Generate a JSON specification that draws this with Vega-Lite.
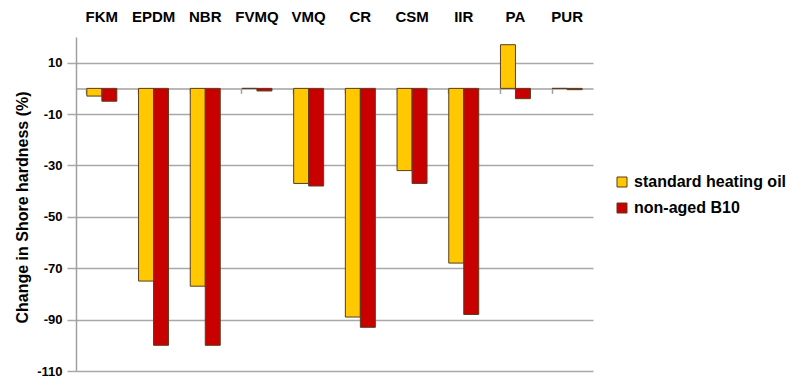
{
  "$schema": "https://vega.github.io/schema/vega-lite/v6.json",
  "autosize": {"type": "none"},
  "padding": {"left": 76, "top": 37, "right": 196, "bottom": 12},
  "width": 517,
  "height": 334,
  "background": "white",
  "config": {
    "view": {"stroke": null},
    "font": "Liberation Sans"
  },
  "data": {
    "values": [
      {"material": "FKM", "series": "standard heating oil", "value": -3},
      {"material": "FKM", "series": "non-aged B10", "value": -5},
      {"material": "EPDM", "series": "standard heating oil", "value": -75},
      {"material": "EPDM", "series": "non-aged B10", "value": -100},
      {"material": "NBR", "series": "standard heating oil", "value": -77},
      {"material": "NBR", "series": "non-aged B10", "value": -100},
      {"material": "FVMQ", "series": "standard heating oil", "value": 0},
      {"material": "FVMQ", "series": "non-aged B10", "value": -1},
      {"material": "VMQ", "series": "standard heating oil", "value": -37},
      {"material": "VMQ", "series": "non-aged B10", "value": -38},
      {"material": "CR", "series": "standard heating oil", "value": -89},
      {"material": "CR", "series": "non-aged B10", "value": -93},
      {"material": "CSM", "series": "standard heating oil", "value": -32},
      {"material": "CSM", "series": "non-aged B10", "value": -37},
      {"material": "IIR", "series": "standard heating oil", "value": -68},
      {"material": "IIR", "series": "non-aged B10", "value": -88},
      {"material": "PA", "series": "standard heating oil", "value": 17},
      {"material": "PA", "series": "non-aged B10", "value": -4},
      {"material": "PUR", "series": "standard heating oil", "value": 0},
      {"material": "PUR", "series": "non-aged B10", "value": -0.5}
    ]
  },
  "layer": [
    {
      "mark": {"type": "bar", "opacity": 0},
      "encoding": {
        "x": {
          "field": "material", "type": "nominal", "sort": null,
          "scale": {"paddingInner": 0.42, "paddingOuter": 0.21},
          "axis": {
            "orient": "bottom", "offset": -282.6, "labels": false, "title": null,
            "domainColor": "#a0a0a0", "domainWidth": 1.5,
            "tickColor": "#a0a0a0", "tickWidth": 1.5, "tickSize": 5, "bandPosition": 0
          }
        },
        "y": {
          "field": "value", "type": "quantitative",
          "scale": {"domain": [-110, 20], "nice": false, "zero": false},
          "axis": {
            "values": [10, -10, -30, -50, -70, -90, -110],
            "labelExpr": "'' + datum.value",
            "title": "Change in Shore hardness (%)",
            "titleFontSize": 16, "titleFontWeight": "bold", "titleColor": "#000",
            "titlePadding": 6, "titleY": 170,
            "labelFontSize": 13, "labelFontWeight": "bold", "labelColor": "#000",
            "labelPadding": 5,
            "grid": true, "gridColor": "#a8a8a8", "gridWidth": 1.5,
            "domainColor": "#a0a0a0", "domainWidth": 1.5,
            "tickColor": "#a8a8a8", "tickWidth": 1.5, "tickSize": 9
          }
        }
      }
    },
    {
      "mark": {"type": "bar", "stroke": "#5a3d1e", "strokeWidth": 1},
      "encoding": {
        "x": {
          "field": "material", "type": "nominal", "sort": null,
          "axis": {
            "orient": "top", "title": null, "domain": false, "ticks": false,
            "labelAngle": 0, "labelFontSize": 15, "labelFontWeight": "bold",
            "labelColor": "#000", "labelPadding": 13
          }
        },
        "xOffset": {
          "field": "series", "type": "nominal",
          "sort": ["standard heating oil", "non-aged B10"],
          "scale": {"paddingInner": 0, "paddingOuter": 0}
        },
        "y": {"field": "value", "type": "quantitative"},
        "color": {
          "field": "series", "type": "nominal",
          "sort": ["standard heating oil", "non-aged B10"],
          "scale": {"domain": ["standard heating oil", "non-aged B10"], "range": ["#FFC800", "#C80000"]},
          "legend": {
            "title": null, "orient": "none", "legendX": 538, "legendY": 137,
            "symbolType": "square", "symbolSize": 100,
            "symbolStrokeColor": "#5a3d1e", "symbolStrokeWidth": 1,
            "labelFontSize": 16, "labelFontWeight": "bold", "labelColor": "#000",
            "labelOffset": 4, "rowPadding": 10, "labelLimit": 250
          }
        }
      }
    }
  ],
  "resolve": {"axis": {"x": "independent"}}
}
